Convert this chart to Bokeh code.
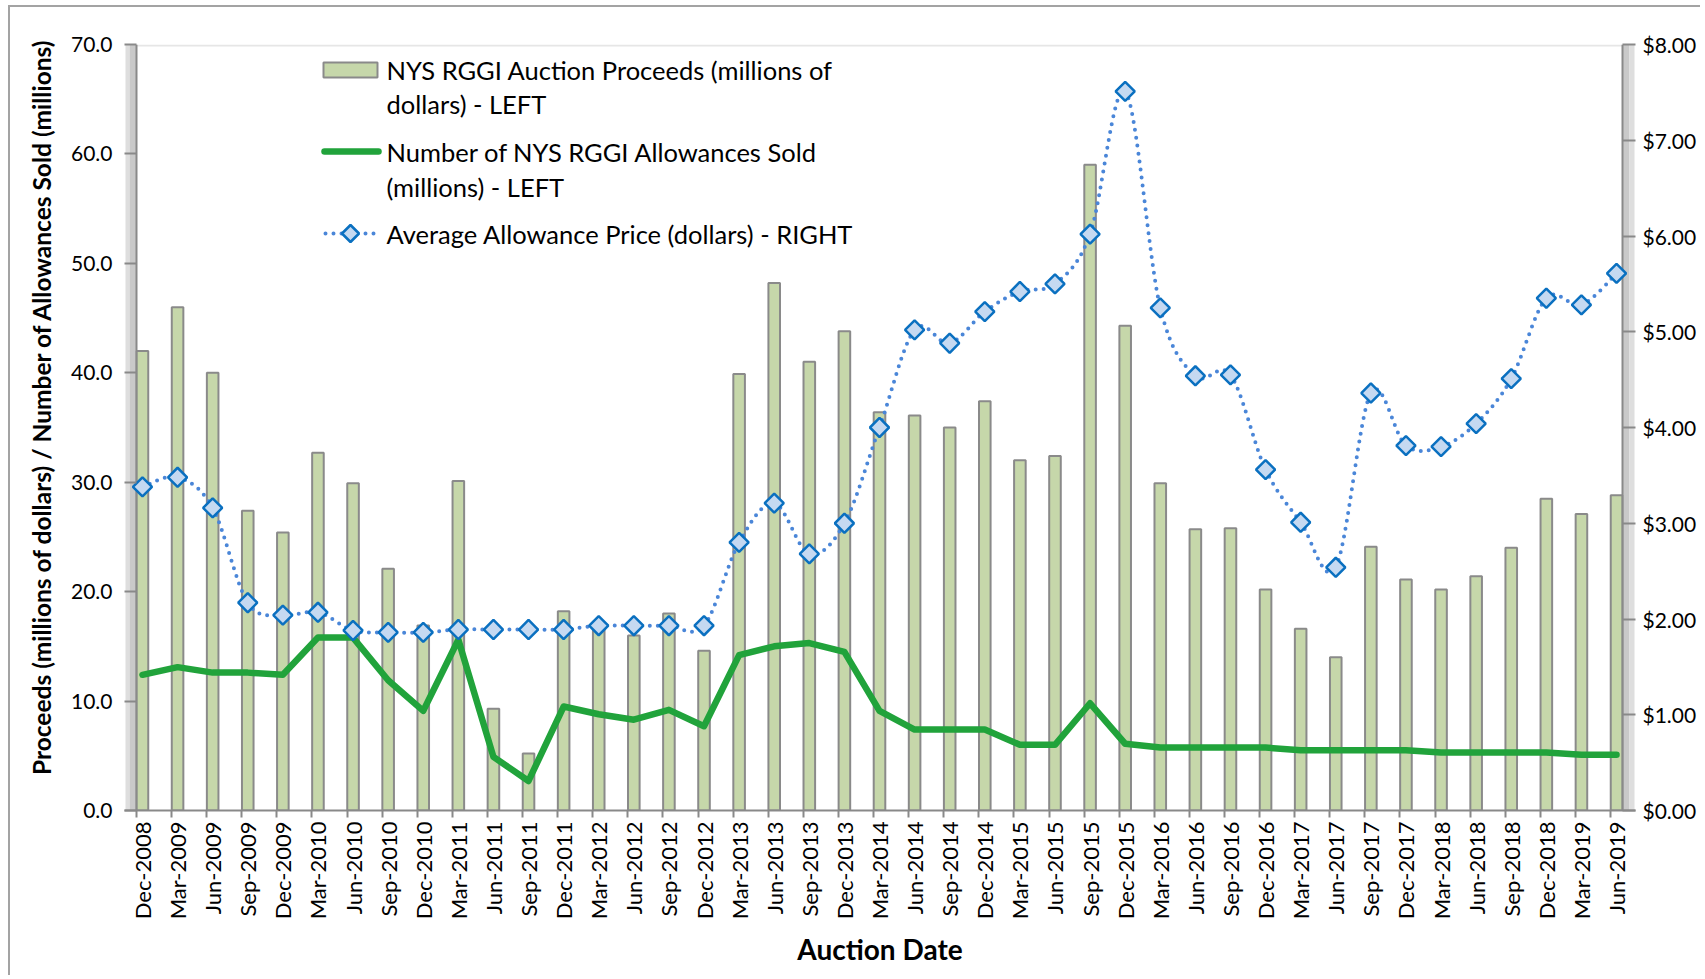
import numpy as np
from bokeh.plotting import figure
from bokeh.models import (Range1d, LinearAxis, FixedTicker, NumeralTickFormatter,
                          BoxAnnotation, PolyAnnotation, Label, ColumnDataSource)
from bokeh.embed import file_html
from bokeh.resources import INLINE

# ---------------- data ----------------
dates = ["Dec-2008", "Mar-2009", "Jun-2009", "Sep-2009", "Dec-2009",
         "Mar-2010", "Jun-2010", "Sep-2010", "Dec-2010",
         "Mar-2011", "Jun-2011", "Sep-2011", "Dec-2011",
         "Mar-2012", "Jun-2012", "Sep-2012", "Dec-2012",
         "Mar-2013", "Jun-2013", "Sep-2013", "Dec-2013",
         "Mar-2014", "Jun-2014", "Sep-2014", "Dec-2014",
         "Mar-2015", "Jun-2015", "Sep-2015", "Dec-2015",
         "Mar-2016", "Jun-2016", "Sep-2016", "Dec-2016",
         "Mar-2017", "Jun-2017", "Sep-2017", "Dec-2017",
         "Mar-2018", "Jun-2018", "Sep-2018", "Dec-2018",
         "Mar-2019", "Jun-2019"]

proceeds = [42.0, 46.0, 40.0, 27.4, 25.4,
            32.7, 29.9, 22.1, 16.9,
            30.1, 9.3, 5.2, 18.2,
            16.8, 16.0, 18.0, 14.6,
            39.9, 48.2, 41.0, 43.8,
            36.4, 36.1, 35.0, 37.4,
            32.0, 32.4, 59.0, 44.3,
            29.9, 25.7, 25.8, 20.2,
            16.6, 14.0, 24.1, 21.1,
            20.2, 21.4, 24.0, 28.5,
            27.1, 28.8]

allowances = [12.4, 13.1, 12.6, 12.6, 12.4,
              15.8, 15.8, 11.9, 9.1,
              15.6, 4.9, 2.7, 9.5,
              8.8, 8.3, 9.2, 7.7,
              14.2, 15.0, 15.3, 14.5,
              9.1, 7.4, 7.4, 7.4,
              6.0, 6.0, 9.8, 6.1,
              5.75, 5.75, 5.75, 5.75,
              5.5, 5.5, 5.5, 5.5,
              5.3, 5.3, 5.3, 5.3,
              5.1, 5.1]

price = [3.38, 3.48, 3.16, 2.17, 2.04,
         2.07, 1.88, 1.86, 1.86,
         1.89, 1.89, 1.89, 1.89,
         1.93, 1.93, 1.93, 1.93,
         2.80, 3.21, 2.68, 3.00,
         4.00, 5.02, 4.88, 5.21,
         5.42, 5.50, 6.02, 7.51,
         5.25, 4.54, 4.55, 3.56,
         3.01, 2.54, 4.36, 3.81,
         3.80, 4.04, 4.51, 5.35,
         5.28, 5.61]

left_ticks = [0, 10, 20, 30, 40, 50, 60, 70]
right_ticks = [0, 1, 2, 3, 4, 5, 6, 7, 8]

legend_labels = [["NYS RGGI Auction Proceeds (millions of", "dollars) - LEFT"],
                 ["Number of NYS RGGI Allowances Sold", "(millions) - LEFT"],
                 ["Average Allowance Price (dollars) - RIGHT"]]

# ---------------- styles ----------------
FONT = "Lato"
BAR_FILL = "#c6d7aa"
BAR_LINE = "#8a8a8a"
GREEN = "#21a33b"
BLUE_DOT = "#4a86d8"
DIA_FILL = "#c5d9f1"
DIA_LINE = "#0a70c0"
AXIS_GREY = "#898989"

n = len(dates)
xs = np.arange(n, dtype=float)


def smooth_segments(xv, yv, k=1.0 / 6.0):
    xv = np.asarray(xv, float)
    yv = np.asarray(yv, float)
    m = len(xv)
    qx = np.concatenate([[xv[0]], xv, [xv[-1]]])
    qy = np.concatenate([[yv[0]], yv, [yv[-1]]])
    cx0 = qx[1:m] + (qx[2:m + 1] - qx[0:m - 1]) * k
    cy0 = qy[1:m] + (qy[2:m + 1] - qy[0:m - 1]) * k
    cx1 = qx[2:m + 1] - (qx[3:m + 2] - qx[1:m]) * k
    cy1 = qy[2:m + 1] - (qy[3:m + 2] - qy[1:m]) * k
    return dict(x0=xv[:-1], y0=yv[:-1], x1=xv[1:], y1=yv[1:],
                cx0=cx0, cy0=cy0, cx1=cx1, cy1=cy1)


# page geometry (figure sits at page origin)
W, H = 1700, 975
FRAME_L, FRAME_R, FRAME_T, FRAME_B = 124, 1635, 44, 810   # frame incl. shadow bands
PLOT_L, PLOT_R = 136, 1622                                 # visible plot area
PX_PER_CAT = (PLOT_R - PLOT_L) / (n - 1 + 0.34)
x_start = -0.17 - (PLOT_L - FRAME_L) / PX_PER_CAT
x_end = n - 1 + 0.17 + (FRAME_R - PLOT_R) / PX_PER_CAT
FRAME_H = FRAME_B - FRAME_T

p = figure(width=W, height=H, output_backend="svg", toolbar_location=None,
           x_range=Range1d(x_start, x_end), y_range=Range1d(0, 70),
           min_border_left=FRAME_L, min_border_right=W - FRAME_R,
           min_border_top=FRAME_T, min_border_bottom=H - FRAME_B)
p.extra_y_ranges = {"right": Range1d(0, 8)}
p.outline_line_color = None
p.xgrid.visible = False
p.ygrid.visible = False
p.background_fill_color = "white"
p.border_fill_color = None
p.styles = {
    "background-color": "white",
    "background-image": "linear-gradient(#a3a3a3, #a3a3a3), linear-gradient(#a3a3a3, #a3a3a3)",
    "background-size": "2px 100%, 100% 2px",
    "background-position": "8px 5px, 8px 5px",
    "background-repeat": "no-repeat",
}

# ---- axes ----
xa = p.xaxis[0]
xa.ticker = FixedTicker(ticks=list(range(n)), minor_ticks=[i - 0.17 for i in range(n)])
xa.major_label_overrides = {i: d for i, d in enumerate(dates)}
xa.major_label_orientation = np.pi / 2
xa.major_tick_out = 0
xa.major_tick_in = 0
xa.minor_tick_out = 7
xa.minor_tick_in = 0
xa.minor_tick_line_color = AXIS_GREY
xa.minor_tick_line_width = 2
xa.axis_line_color = AXIS_GREY
xa.axis_line_width = 2
xa.major_label_text_font = FONT
xa.major_label_text_font_size = "22px"
xa.major_label_text_color = "black"
xa.major_label_standoff = 4
xa.axis_label = "Auction Date"
xa.axis_label_text_font = FONT
xa.axis_label_text_font_style = "bold"
xa.axis_label_text_font_size = "28px"
xa.axis_label_text_color = "black"
xa.axis_label_standoff = 10

ya = p.yaxis[0]
ya.ticker = FixedTicker(ticks=left_ticks)
ya.formatter = NumeralTickFormatter(format="0.0")
ya.major_tick_out = 0
ya.major_tick_in = PLOT_L - FRAME_L
ya.minor_tick_out = 0
ya.minor_tick_in = 0
ya.major_tick_line_color = AXIS_GREY
ya.major_tick_line_width = 2
ya.axis_line_color = None
ya.major_label_text_font = FONT
ya.major_label_text_font_size = "21px"
ya.major_label_text_color = "black"
ya.major_label_standoff = 12
ya.axis_label = "\u00a0" * 7 + "Proceeds (millions of dollars) / Number of Allowances Sold (millions)"
ya.axis_label_text_font = FONT
ya.axis_label_text_font_style = "bold"
ya.axis_label_text_font_size = "24.5px"
ya.axis_label_text_color = "black"
ya.axis_label_standoff = 12

ra = LinearAxis(y_range_name="right", ticker=FixedTicker(ticks=right_ticks),
                formatter=NumeralTickFormatter(format="$0.00"))
ra.major_tick_out = 0
ra.major_tick_in = FRAME_R - PLOT_R
ra.minor_tick_out = 0
ra.minor_tick_in = 0
ra.major_tick_line_color = AXIS_GREY
ra.major_tick_line_width = 2
ra.axis_line_color = None
ra.major_label_text_font = FONT
ra.major_label_text_font_size = "21px"
ra.major_label_text_color = "black"
ra.major_label_standoff = 7
p.add_layout(ra, "right")


def sx(X):
    return X - FRAME_L


def sy(Y):
    return FRAME_B - Y


def sbox(l, r, b, t, **kw):
    return BoxAnnotation(left=l, right=r, bottom=b, top=t,
                         left_units="screen", right_units="screen",
                         bottom_units="screen", top_units="screen", **kw)


# ---- plot-area shadow bands and axis lines (inside the frame) ----
for (l, r, c) in [(125, 129, "#dedede"), (129, 136, "#c9c9c9"),
                  (1622, 1629, "#c9c9c9"), (1629, 1634, "#dedede")]:
    p.add_layout(sbox(sx(l), sx(r), 0, FRAME_H, fill_color=c, fill_alpha=1,
                      line_color=None, level="underlay"))
p.add_layout(sbox(sx(PLOT_L), sx(PLOT_R), FRAME_H - 2, FRAME_H, fill_color="#e6e6e6",
                  fill_alpha=1, line_color=None, level="underlay"))
for (l, r) in [(PLOT_L - 1, PLOT_L + 1), (PLOT_R - 1, PLOT_R + 1)]:
    p.add_layout(sbox(sx(l), sx(r), 0, FRAME_H, fill_color=AXIS_GREY, fill_alpha=1,
                      line_color=None, level="underlay"))

# ---- glyphs ----
src = ColumnDataSource(dict(x=xs, proceeds=proceeds, allowances=allowances, price=price))
p.vbar(x="x", top="proceeds", bottom=0, width=0.33, source=src,
       fill_color=BAR_FILL, line_color=BAR_LINE, line_width=2)

p.line(x="x", y="allowances", source=src, line_color=GREEN, line_width=6.5,
       line_join="round", line_cap="round")

b = smooth_segments(xs, price)
p.bezier(x0="x0", y0="y0", x1="x1", y1="y1", cx0="cx0", cy0="cy0", cx1="cx1", cy1="cy1",
         source=ColumnDataSource(b), line_color=BLUE_DOT, line_width=4, line_dash="0 8",
         line_cap="round", y_range_name="right")
p.scatter(x="x", y="price", source=src, marker="square", angle=np.pi / 4, size=13.5,
          fill_color=DIA_FILL, line_color=DIA_LINE, line_width=2.5, y_range_name="right")

# ---- manual legend ----
p.add_layout(sbox(sx(323), sx(377), sy(77), sy(62), fill_color=BAR_FILL, fill_alpha=1,
                  line_color=BAR_LINE, line_alpha=1, line_width=2))
p.add_layout(PolyAnnotation(xs=[sx(324), sx(378)], ys=[sy(151), sy(151)],
                            xs_units="screen", ys_units="screen",
                            fill_alpha=0, line_color=GREEN, line_alpha=1, line_width=6.5,
                            line_cap="round"))
p.add_layout(PolyAnnotation(xs=[sx(325), sx(377)], ys=[sy(233), sy(233)],
                            xs_units="screen", ys_units="screen",
                            fill_alpha=0, line_color=BLUE_DOT, line_alpha=1, line_width=4,
                            line_dash="0 8", line_cap="round"))
cx, cy, hd = 350, 233, 8.5
p.add_layout(PolyAnnotation(xs=[sx(cx - hd), sx(cx), sx(cx + hd), sx(cx)],
                            ys=[sy(cy), sy(cy - hd), sy(cy), sy(cy + hd)],
                            xs_units="screen", ys_units="screen",
                            fill_color=DIA_FILL, fill_alpha=1, line_color=DIA_LINE,
                            line_alpha=1, line_width=2.5))

line_y = [[69.5, 103], [151, 186], [233]]
for labels, ys_ in zip(legend_labels, line_y):
    for txt, Y in zip(labels, ys_):
        p.add_layout(Label(x=sx(386), y=sy(Y), x_units="screen", y_units="screen",
                           text=txt, text_font=FONT, text_font_size="25.5px",
                           text_color="black", text_align="left", text_baseline="middle"))

open("out.html", "w").write(file_html(p, INLINE))
